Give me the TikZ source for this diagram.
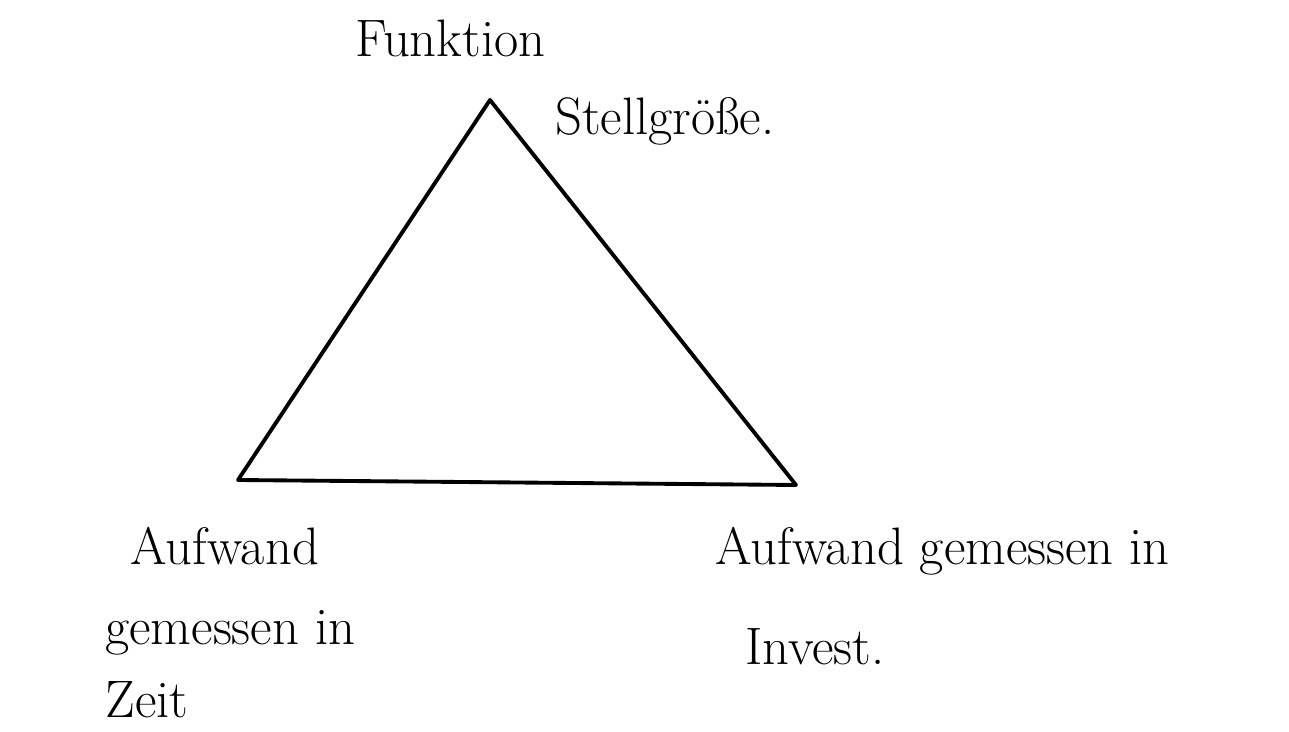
\documentclass[tikz,border=0pt]{standalone}
\usepackage{tikz}
\usetikzlibrary{positioning}

\begin{document}
\begin{tikzpicture}[
    x=0.02cm, y=-0.02cm,
    edge/.style={line width=2.2pt, draw=black, line join=round, line cap=round},
    label/.style={anchor=base west, inner sep=0pt, font=\fontsize{30}{36}\selectfont}
]
\useasboundingbox (0,0) rectangle (1289,732);

% Corners
\coordinate (top) at (490,100);
\coordinate (left) at (238,480);
\coordinate (right) at (796,485);

% Triangle
\draw[edge] (top) -- (right) -- (left) -- cycle;

% Top label
\node[label] (funk) at (355,57) {Funktion};
\node[label] (stell) at (555,135) {Stellgröße.};

% Bottom left label
\node[label] (aufl) at (130,565) {Aufwand};
\node[label] (gemzeit) at (105,645) {gemessen in};
\node[label] (zeit) at (105,718) {Zeit};

% Bottom right label
\node[label] (aufr) at (715,565) {Aufwand gemessen in};
\node[label] (invest) at (745,665) {Invest.};

\end{tikzpicture}
\end{document}
